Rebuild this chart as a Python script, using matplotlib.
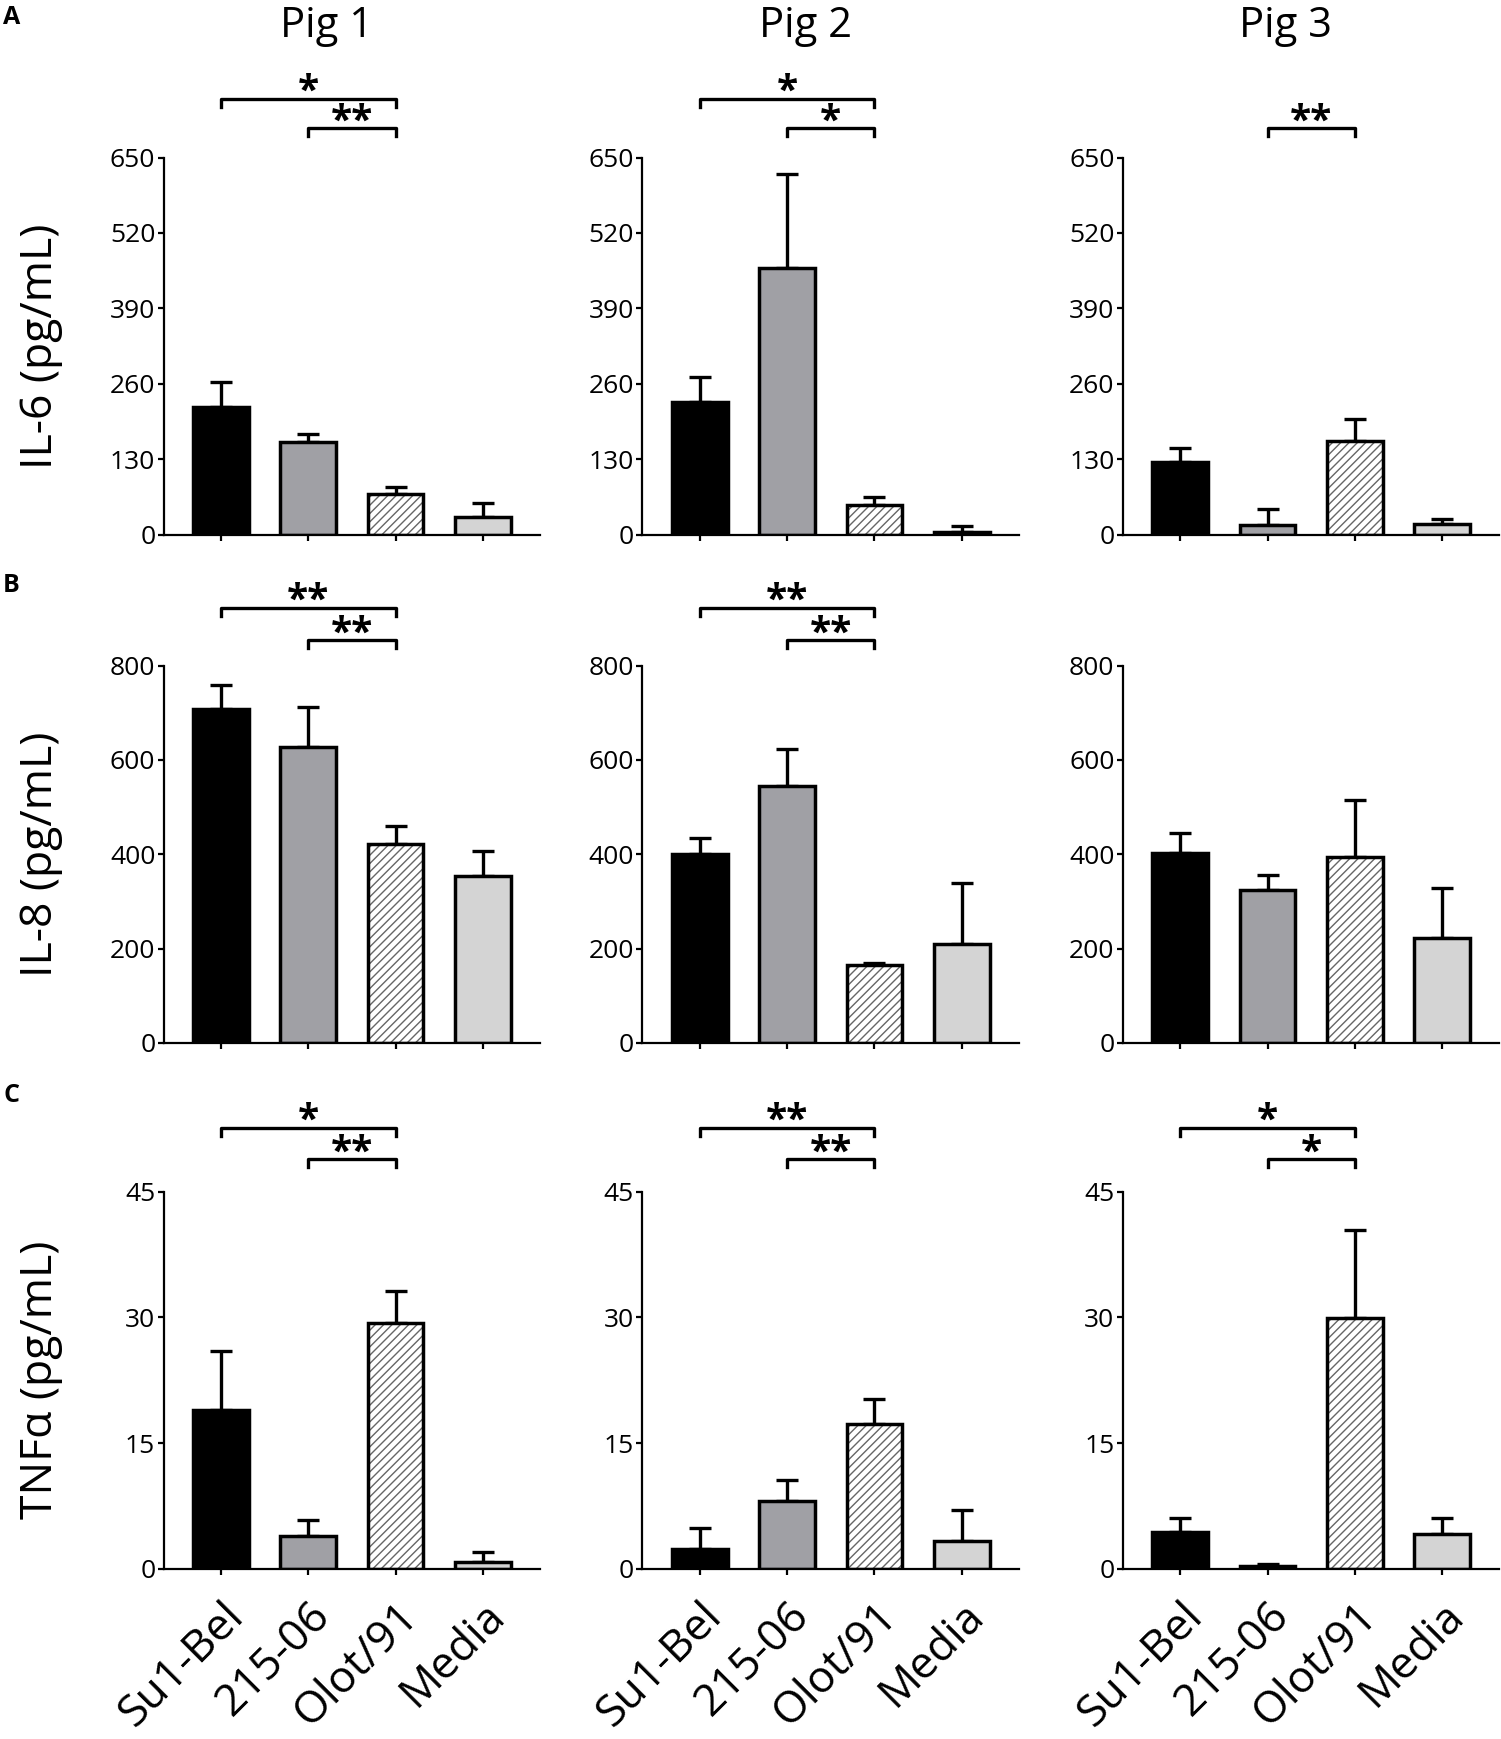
import numpy as np
import matplotlib.pyplot as plt

plt.rcParams['font.family'] = ['Open Sans', 'DejaVu Sans']
plt.rcParams['hatch.linewidth'] = 1.0
plt.rcParams['hatch.color'] = '#666666'

groups = ["Su1-Bel", "215-06", "Olot/91", "Media"]
pigs = ["Pig 1", "Pig 2", "Pig 3"]
cytokines = ["IL-6 (pg/mL)", "IL-8 (pg/mL)", "TNF\u03b1 (pg/mL)"]
panel_letters = ["A", "B", "C"]

# mean values, one row per pig
il6_mean = [[220, 159, 71, 31], [228, 459, 52, 4], [126, 17, 161, 19]]
il6_err = [[44, 15, 11, 23], [44, 162, 13, 11], [23, 27, 38, 8]]
il8_mean = [[708, 628, 421, 353], [400, 544, 165, 209], [403, 324, 394, 223]]
il8_err = [[52, 85, 38, 54], [35, 80, 4, 130], [43, 32, 121, 105]]
tnf_mean = [[18.9, 3.9, 29.3, 0.8], [2.4, 8.1, 17.3, 3.3], [4.4, 0.27, 29.9, 4.1]]
tnf_err = [[7.1, 1.9, 3.8, 1.2], [2.5, 2.5, 2.9, 3.7], [1.7, 0.3, 10.5, 2.0]]

means = [il6_mean, il8_mean, tnf_mean]
errs = [il6_err, il8_err, tnf_err]
yticks = [[0, 130, 260, 390, 520, 650], [0, 200, 400, 600, 800], [0, 15, 30, 45]]

# significance brackets: (start bar, end bar, label, level)
sig = [
    [[(0, 2, "*", 0), (1, 2, "**", 1)], [(0, 2, "*", 0), (1, 2, "*", 1)], [(1, 2, "**", 1)]],
    [[(0, 2, "**", 0), (1, 2, "**", 1)], [(0, 2, "**", 0), (1, 2, "**", 1)], []],
    [[(0, 2, "*", 0), (1, 2, "**", 1)], [(0, 2, "**", 0), (1, 2, "**", 1)], [(0, 2, "*", 0), (1, 2, "*", 1)]],
]
sig_levels = [[1.156, 1.078], [1.153, 1.068], [1.169, 1.086]]

colors = ["black", "#a0a0a5", "white", "#d4d4d4"]
hatches = [None, None, "////", None]

fig = plt.figure(figsize=(15.01, 17.39), dpi=100)
lefts = [0.109, 0.428, 0.748]
bottoms = [0.6925, 0.4003, 0.0979]
w, h = 0.251, 0.2169

x = np.arange(len(groups))
for r in range(3):
    for c in range(3):
        ax = fig.add_axes([lefts[c], bottoms[r], w, h])
        vals = np.array(means[r][c])
        e = np.array(errs[r][c])
        ax.errorbar(x, vals, yerr=[np.zeros(4), e], fmt='none', ecolor='black',
                    elinewidth=2.4, capsize=8, capthick=2.4, zorder=1)
        for i in range(4):
            if hatches[i]:
                ax.bar(x[i], vals[i], width=0.64, color='white', edgecolor='#666666',
                       hatch=hatches[i], linewidth=0, zorder=2)
                ax.bar(x[i], vals[i], width=0.64, fill=False, edgecolor='black',
                       linewidth=2.5, zorder=3)
            else:
                ax.bar(x[i], vals[i], width=0.64, color=colors[i], edgecolor='black',
                       linewidth=2.5, zorder=2)
        ax.set_xlim(-0.66, 3.66)
        ax.set_ylim(0, yticks[r][-1])
        ax.set_yticks(yticks[r])
        ax.spines['top'].set_visible(False)
        ax.spines['right'].set_visible(False)
        ax.spines['left'].set_linewidth(1.6)
        ax.spines['bottom'].set_linewidth(1.6)
        ax.tick_params(axis='y', labelsize=19, length=4, width=1.6, pad=2)
        ax.tick_params(axis='x', length=4, width=1.6)
        ax.set_xticks(x)
        if r == 2:
            ax.set_xticklabels(groups, rotation=45, ha='right', va='top',
                               rotation_mode='anchor', fontsize=32)
            ax.tick_params(axis='x', pad=14)
        else:
            ax.set_xticklabels([])

        for (a, b, lab, lvl) in sig[r][c]:
            yb = sig_levels[r][lvl]
            trans = ax.get_xaxis_transform()
            ax.plot([a, a, b, b], [yb - 0.022, yb, yb, yb - 0.022], color='black',
                    lw=2.4, transform=trans, clip_on=False)
            ax.text((a + b) / 2, yb - 0.035, lab, transform=trans, ha='center',
                    va='bottom', fontsize=28, fontweight='bold')

        if c == 0:
            fig.text(0.0273, bottoms[r] + h / 2, cytokines[r], rotation=90,
                     ha='center', va='center', fontsize=32)

for c in range(3):
    fig.text(lefts[c] + w / 2 - 0.017, 0.9787, pigs[c], ha='center',
             va='baseline', fontsize=30)

letter_y = [1 - 17 / 1739, 1 - 585 / 1739, 1 - 1096 / 1739]
for r in range(3):
    fig.text(0.002, letter_y[r], panel_letters[r], ha='left', va='center',
             fontsize=18, fontweight='bold')

fig.savefig("out.png", dpi=100)
